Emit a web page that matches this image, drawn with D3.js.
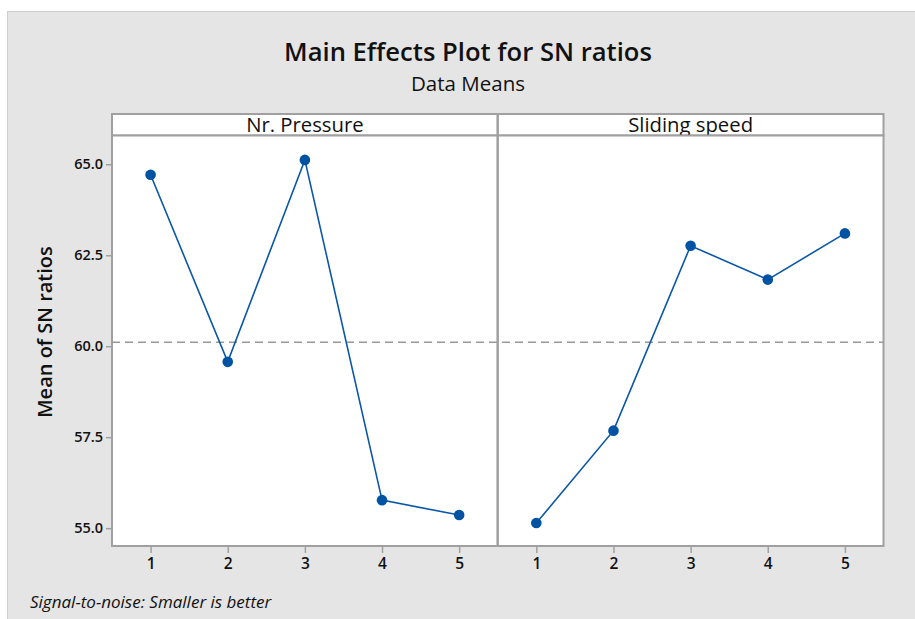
<!DOCTYPE html>
<html>
<head>
<meta charset="utf-8">
<script src="https://cdn.jsdelivr.net/npm/d3@7"></script>
<style>
  html, body { margin: 0; padding: 0; background: #fff; }
  svg { display: block; }
  text { font-family: "Open Sans", "Noto Sans", sans-serif; fill: #111; }
</style>
</head>
<body>
<div id="chart"></div>
<script>
const title = "Main Effects Plot for SN ratios";
const subtitle = "Data Means";
const yAxisTitle = "Mean of SN ratios";
const footnote = "Signal-to-noise: Smaller is better";
const factors = ["Nr. Pressure", "Sliding speed"];
const levels = [1, 2, 3, 4, 5];
const pressureMeans = [64.71, 59.57, 65.12, 55.77, 55.36];
const speedMeans = [55.14, 57.68, 62.76, 61.83, 63.10];
const yTicks = [55.0, 57.5, 60.0, 62.5, 65.0];
const grandMean = 60.11;

const W = 915, H = 619;
const svg = d3.select("#chart").append("svg").attr("width", W).attr("height", H);

// background
svg.append("rect").attr("x", 7.5).attr("y", 11.5).attr("width", W).attr("height", H)
  .attr("fill", "#e5e5e5").attr("stroke", "#cfcfcf").attr("stroke-width", 1);

const left = 112, right = 883.5, headTop = 114, headBot = 135.5, bottom = 546;
const panelW = (right - left) / 2;

const y = d3.scaleLinear().domain([54.51, 65.79]).range([bottom, headBot]);

const series = [pressureMeans, speedMeans];

// title
svg.append("text").attr("x", 468).attr("y", 61).attr("text-anchor", "middle")
  .attr("font-size", 25.6).attr("font-weight", 600).text(title);
svg.append("text").attr("x", 468).attr("y", 91).attr("text-anchor", "middle")
  .attr("font-size", 20.5).attr("font-weight", 500).text(subtitle);

factors.forEach((f, i) => {
  const x0 = left + i * panelW;
  const x = d3.scaleLinear().domain([0.5, 5.5]).range([x0, x0 + panelW]);
  // header
  svg.append("rect").attr("x", x0).attr("y", headTop).attr("width", panelW).attr("height", headBot - headTop)
    .attr("fill", "#fff").attr("stroke", "#a0a0a0").attr("stroke-width", 2);
  svg.append("text").attr("x", x0 + panelW / 2).attr("y", 131.5).attr("text-anchor", "middle")
    .attr("font-size", 20.3).attr("font-weight", 500).text(f);
  // panel
  svg.append("rect").attr("x", x0).attr("y", headBot).attr("width", panelW).attr("height", bottom - headBot)
    .attr("fill", "#fff").attr("stroke", "#a0a0a0").attr("stroke-width", 2);

  // x axis
  const xa = svg.append("g").attr("transform", `translate(0,${bottom})`)
    .call(d3.axisBottom(x).tickValues(levels).tickSize(7).tickSizeOuter(0).tickPadding(5).tickFormat(d3.format("d")));
  xa.select(".domain").remove();
  xa.selectAll(".tick line").attr("stroke", "#a0a0a0").attr("stroke-width", 1.5);
  xa.selectAll(".tick text").attr("font-size", 15.5).attr("font-weight", 600).attr("fill", "#111")
    .attr("font-family", "'Open Sans', sans-serif");
});

// mean reference line
svg.append("line").attr("x1", left).attr("x2", right)
  .attr("y1", y(grandMean)).attr("y2", y(grandMean))
  .attr("stroke", "#999").attr("stroke-width", 1.5).attr("stroke-dasharray", "8,5");

factors.forEach((f, i) => {
  const x0 = left + i * panelW;
  const x = d3.scaleLinear().domain([0.5, 5.5]).range([x0, x0 + panelW]);
  const data = levels.map((l, j) => ({ l, v: series[i][j] }));
  svg.append("path").datum(data)
    .attr("d", d3.line().x(d => x(d.l)).y(d => y(d.v)))
    .attr("fill", "none").attr("stroke", "#0a57a8").attr("stroke-width", 1.6);
  svg.selectAll(null).data(data).enter().append("circle")
    .attr("cx", d => x(d.l)).attr("cy", d => y(d.v)).attr("r", 5.3)
    .attr("fill", "#0052a3");
});

// divider redraw
svg.append("line").attr("x1", left + panelW).attr("x2", left + panelW).attr("y1", headTop).attr("y2", bottom)
  .attr("stroke", "#a0a0a0").attr("stroke-width", 2);

// y axis
const ya = svg.append("g").attr("transform", `translate(${left},0)`)
  .call(d3.axisLeft(y).tickValues(yTicks).tickSize(6).tickSizeOuter(0).tickPadding(3).tickFormat(d3.format(".1f")));
ya.select(".domain").remove();
ya.selectAll(".tick line").attr("stroke", "#a0a0a0").attr("stroke-width", 1.5);
ya.selectAll(".tick text").attr("font-size", 14.5).attr("font-weight", 600).attr("fill", "#111")
  .attr("font-family", "'Open Sans', sans-serif");

svg.append("text").attr("transform", `translate(52,332) rotate(-90)`)
  .attr("text-anchor", "middle").attr("font-size", 20).attr("font-weight", 600).text(yAxisTitle);

svg.append("text").attr("x", 30).attr("y", 608).attr("font-size", 17).attr("font-style", "italic")
  .text(footnote);
</script>
</body>
</html>
